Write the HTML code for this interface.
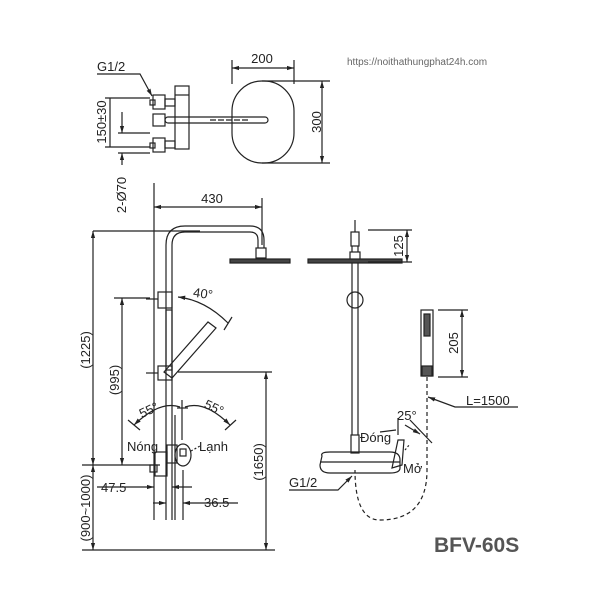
<!DOCTYPE html>
<html><head><meta charset="utf-8"><style>
html,body{margin:0;padding:0;background:#fff;width:600px;height:600px;overflow:hidden}
svg{display:block}
text{font-family:"Liberation Sans",sans-serif;fill:#222}
</style></head><body>
<svg width="600" height="600" viewBox="0 0 600 600" xmlns="http://www.w3.org/2000/svg">
<defs>
<marker id="a" viewBox="0 0 10 10" refX="10" refY="5" markerWidth="6" markerHeight="6" orient="auto-start-reverse"><path d="M0,2 L10,5 L0,8 z" fill="#222"/></marker>
</defs>
<g stroke="#222" stroke-width="1.2" fill="none">
<!-- TOP VIEW -->
<path d="M97,74 L140,74 L152,96" marker-end="url(#a)"/>
<rect x="175" y="86" width="14" height="63" fill="#fff"/>
<line x1="175" y1="95" x2="189" y2="95"/>
<rect x="153" y="95" width="12" height="14"/><rect x="150" y="100" width="5" height="5"/>
<rect x="153" y="114" width="12" height="12"/>
<rect x="153" y="138" width="12" height="14"/><rect x="150" y="143" width="5" height="5"/>
<rect x="165" y="99" width="10" height="7"/><rect x="165" y="141" width="10" height="7"/>
<rect x="165" y="117" width="103" height="6" rx="3"/>
<line x1="210" y1="120" x2="250" y2="120" stroke-dasharray="6,2"/>
<rect x="232" y="81" width="62" height="82" rx="30"/>
<line x1="232" y1="60" x2="232" y2="84"/><line x1="294" y1="60" x2="294" y2="84"/>
<line x1="232" y1="68" x2="294" y2="68" marker-start="url(#a)" marker-end="url(#a)"/>
<line x1="262" y1="81" x2="330" y2="81"/><line x1="262" y1="163" x2="330" y2="163"/>
<line x1="322" y1="81" x2="322" y2="163" marker-start="url(#a)" marker-end="url(#a)"/>
<line x1="105" y1="98" x2="150" y2="98"/><line x1="105" y1="147" x2="150" y2="147"/>
<line x1="110" y1="98" x2="110" y2="147"/>
<line x1="122" y1="112" x2="122" y2="133" marker-end="url(#a)"/><line x1="118" y1="133" x2="150" y2="133"/>
<line x1="122" y1="165" x2="122" y2="153" marker-end="url(#a)"/><line x1="118" y1="153" x2="150" y2="153"/>
<!-- FRONT VIEW -->
<line x1="154" y1="183" x2="154" y2="520"/>
<line x1="262" y1="198" x2="262" y2="245"/>
<line x1="154" y1="207" x2="262" y2="207" marker-start="url(#a)" marker-end="url(#a)"/>
<path d="M166,520 L166,245 Q166,226 185,226 L250,226 Q264,226 264,240 L264,248"/>
<path d="M172,520 L172,245 Q172,232 185,232 L250,232 Q258,232 258,240 L258,248"/>
<rect x="256" y="248" width="10" height="10"/>
<rect x="230" y="259" width="60" height="4" fill="#444"/>
<line x1="93" y1="231" x2="200" y2="231"/>
<rect x="158" y="292" width="14" height="16"/>
<line x1="146" y1="299" x2="158" y2="299"/>
<path d="M178,297 Q205,300 228,323" marker-start="url(#a)"/>
<line x1="224" y1="330" x2="232" y2="317"/>
<rect x="166" y="310" width="6" height="60"/>
<path d="M164,372 L208,322 L216,328 L172,378 z"/>
<rect x="158" y="366" width="14" height="14"/>
<line x1="146" y1="373" x2="158" y2="373"/>
<line x1="178" y1="372" x2="272" y2="372"/>
<line x1="114" y1="298" x2="150" y2="298"/>
<line x1="93" y1="231" x2="93" y2="465" marker-start="url(#a)" marker-end="url(#a)"/>
<line x1="122" y1="298" x2="122" y2="465" marker-start="url(#a)" marker-end="url(#a)"/>
<line x1="266" y1="372" x2="266" y2="550" marker-start="url(#a)" marker-end="url(#a)"/>
<line x1="93" y1="465" x2="93" y2="550" marker-start="url(#a)" marker-end="url(#a)"/>
<line x1="82" y1="465" x2="160" y2="465"/>
<line x1="82" y1="550" x2="275" y2="550"/>
<path d="M134,425 Q160,400 180,407" marker-start="url(#a)"/>
<path d="M230,425 Q205,400 185,407" marker-start="url(#a)"/>
<line x1="128" y1="420" x2="140" y2="430"/><line x1="236" y1="420" x2="225" y2="430"/>
<line x1="182" y1="400" x2="182" y2="440"/><line x1="177" y1="408" x2="188" y2="408"/>
<rect x="155" y="452" width="12" height="24"/><rect x="150" y="465" width="7" height="7"/>
<rect x="167" y="445" width="10" height="18"/>
<ellipse cx="183" cy="455" rx="8" ry="11"/><rect x="180" y="449" width="6" height="7"/>
<path d="M191,451 L200,446" stroke-dasharray="2,2"/>
<line x1="175" y1="415" x2="175" y2="520"/>
<line x1="97" y1="487" x2="154" y2="487" marker-end="url(#a)"/>
<line x1="172" y1="487" x2="192" y2="487" marker-start="url(#a)"/>
<line x1="153" y1="503" x2="166" y2="503" marker-end="url(#a)"/>
<line x1="183" y1="503" x2="238" y2="503" marker-start="url(#a)"/>
<line x1="183" y1="470" x2="183" y2="520"/>
<!-- SIDE VIEW -->
<line x1="355" y1="220" x2="355" y2="232"/>
<rect x="351" y="232" width="8" height="14"/>
<rect x="350" y="252" width="10" height="8"/>
<line x1="352" y1="246" x2="352" y2="252"/><line x1="358" y1="246" x2="358" y2="252"/>
<rect x="308" y="259" width="94" height="4" fill="#444"/>
<line x1="352" y1="263" x2="352" y2="435"/><line x1="358" y1="263" x2="358" y2="435"/>
<circle cx="355" cy="300" r="8"/>
<rect x="351" y="435" width="8" height="18"/>
<line x1="368" y1="230" x2="412" y2="230"/><line x1="368" y1="262" x2="412" y2="262"/>
<line x1="407" y1="230" x2="407" y2="262" marker-start="url(#a)" marker-end="url(#a)"/>
<rect x="421" y="310" width="12" height="66"/>
<rect x="424" y="314" width="6" height="22" fill="#555"/>
<rect x="422" y="366" width="10" height="10" fill="#555"/>
<line x1="438" y1="310" x2="468" y2="310"/><line x1="438" y1="377" x2="468" y2="377"/>
<line x1="462" y1="310" x2="462" y2="377" marker-start="url(#a)" marker-end="url(#a)"/>
<path d="M427,377 L427,470 Q427,520 380,520 Q355,520 355,470" stroke-dasharray="4,3"/>
<path d="M518,407 L455,407 L428,397" marker-end="url(#a)"/>
<path d="M322,456 Q320,452 330,452 L390,452 Q400,452 400,460 L400,468 Q400,473 390,473 L330,473 Q320,473 320,465 z"/>
<line x1="320" y1="462" x2="400" y2="462"/>
<path d="M392,468 L398,440 L404,440 L402,465 Z"/>
<line x1="405" y1="450" x2="410" y2="444" stroke-dasharray="2,2"/>
<path d="M289,490 L338,490 L352,476" marker-end="url(#a)"/>
<path d="M380,432 L396,430"/><line x1="398" y1="418" x2="398" y2="435"/>
<line x1="410" y1="420" x2="432" y2="443"/>
<path d="M405,425 L420,434" marker-end="url(#a)"/>
</g>
<g font-size="13">
<text x="97" y="71">G1/2</text>
<text x="262" y="63" text-anchor="middle">200</text>
<text transform="translate(321,122) rotate(-90)" text-anchor="middle">300</text>
<text transform="translate(106,122) rotate(-90)" text-anchor="middle">150±30</text>
<text transform="translate(126,195) rotate(-90)" text-anchor="middle">2-Ø70</text>
<text x="212" y="203" text-anchor="middle">430</text>
<text x="193" y="298" transform="rotate(8 203 295)">40°</text>
<text transform="translate(90,350) rotate(-90)" text-anchor="middle">(1225)</text>
<text transform="translate(119,380) rotate(-90)" text-anchor="middle">(995)</text>
<text transform="translate(263,462) rotate(-90)" text-anchor="middle">(1650)</text>
<text transform="translate(90,508) rotate(-90)" text-anchor="middle">(900~1000)</text>
<text x="139" y="414" transform="rotate(-25 150 410)">55°</text>
<text x="204" y="412" transform="rotate(25 214 408)">55°</text>
<text x="127" y="451">Nóng</text>
<text x="199" y="451">Lạnh</text>
<text x="101" y="492">47.5</text>
<text x="204" y="507">36.5</text>
<text x="289" y="487">G1/2</text>
<text transform="translate(403,246) rotate(-90)" text-anchor="middle">125</text>
<text transform="translate(458,343) rotate(-90)" text-anchor="middle">205</text>
<text x="466" y="405">L=1500</text>
<text x="397" y="420">25°</text>
<text x="360" y="442">Đóng</text>
<text x="403" y="473">Mở</text>
</g>
<text x="347" y="65" font-size="10" style="fill:#666">https://noithathungphat24h.com</text>
<text x="434" y="552" font-size="21" font-weight="bold" style="fill:#555">BFV-60S</text>
</svg>
</body></html>
